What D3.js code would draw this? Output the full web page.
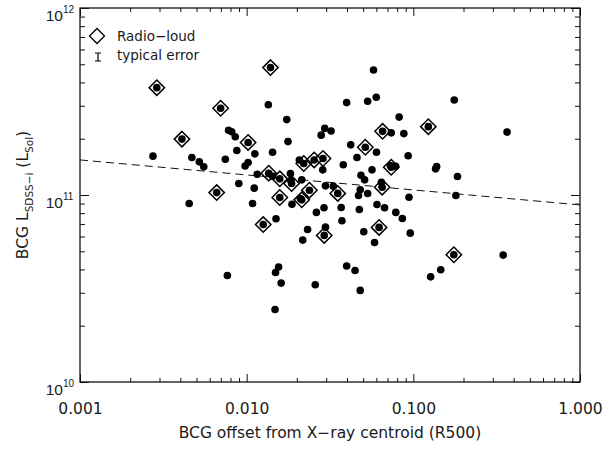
<!DOCTYPE html>
<html>
<head>
<meta charset="utf-8">
<script src="https://cdn.jsdelivr.net/npm/d3@7"></script>
<style>
  html, body { margin: 0; padding: 0; background: #fff; }
  svg { display: block; font-family: "DejaVu Sans", sans-serif; }
  .axis path { display: none; }
  .axis line { stroke: #111; stroke-width: 1; }
</style>
</head>
<body>
<svg id="chart" width="616" height="450"></svg>
<script>
// ---------------- data ----------------
// Radio-loud BCGs (dot + diamond)
const radioX = [0.00289, 0.00409, 0.00698, 0.00661, 0.0102, 0.0139, 0.01356, 0.0158, 0.0158, 0.01257,
                0.0186, 0.0214, 0.0238, 0.0254, 0.0287, 0.0220, 0.0292, 0.0352, 0.0515, 0.0654,
                0.0737, 0.0650, 0.0623, 0.123, 0.175];
const radioY = [3.75e11, 1.99e11, 2.91e11, 1.03e11, 1.91e11, 4.80e11, 1.308e11, 1.22e11, 9.70e10, 6.95e10,
                1.152e11, 9.42e10, 1.061e11, 1.54e11, 1.567e11, 1.474e11, 6.08e10, 1.02e11, 1.80e11, 2.19e11,
                1.408e11, 1.101e11, 6.71e10, 2.32e11, 4.79e10];
// Other BCGs (dot only)
const otherX = [0.00274, 0.00452, 0.00469, 0.0052, 0.00553, 0.00766, 0.00745, 0.00779, 0.00813, 0.00854,
                0.00873, 0.00897, 0.00978, 0.0102, 0.01085, 0.0111, 0.0112, 0.01158, 0.01349, 0.01432,
                0.0143, 0.0150, 0.0149, 0.01554, 0.0161, 0.0148, 0.0174, 0.0177, 0.0183, 0.0184,
                0.0187, 0.0207, 0.0210, 0.0214, 0.0232, 0.0217, 0.0258, 0.0262, 0.0280, 0.0286,
                0.0291, 0.0297, 0.0294, 0.0321, 0.0297, 0.0331, 0.0369, 0.0373, 0.0380, 0.0398,
                0.0421, 0.0398, 0.0447, 0.0459, 0.0469, 0.0474, 0.0480, 0.0485, 0.0504, 0.0510,
                0.0480, 0.0532, 0.0565, 0.0577, 0.0532, 0.0599, 0.0601, 0.0605, 0.0585, 0.0643,
                0.0672, 0.0737, 0.0727, 0.0783, 0.0785, 0.0822, 0.0859, 0.0877, 0.0931, 0.0942,
                0.0958, 0.127, 0.138, 0.136, 0.146, 0.176, 0.180, 0.184, 0.346, 0.365];
const otherY = [1.613e11, 9.01e10, 1.586e11, 1.504e11, 1.414e11, 3.71e10, 1.554e11, 2.22e11, 2.18e11, 2.05e11,
                1.73e11, 1.152e11, 1.43e11, 1.49e11, 9.01e10, 1.088e11, 1.66e11, 1.292e11, 3.04e11, 1.26e11,
                1.693e11, 7.46e10, 3.85e10, 4.12e10, 3.38e10, 2.44e10, 2.53e11, 1.93e11, 1.303e11, 1.195e11,
                8.93e10, 1.54e11, 9.58e10, 1.205e11, 6.54e10, 5.74e10, 3.31e10, 8.07e10, 2.09e11, 1.363e11,
                8.54e10, 6.73e10, 2.27e11, 2.20e11, 1.119e11, 1.115e11, 8.57e10, 7.28e10, 1.45e11, 3.12e11,
                1.854e11, 4.17e10, 3.95e10, 1.586e11, 9.94e10, 8.37e10, 1.066e11, 1.276e11, 6.36e10, 1.205e11,
                3.09e10, 1.018e11, 1.363e11, 4.66e11, 3.17e11, 3.33e11, 1.693e11, 8.90e10, 5.57e10, 1.171e11,
                8.54e10, 2.15e11, 1.437e11, 1.425e11, 8.07e10, 2.61e11, 7.49e10, 2.13e11, 1.62e11, 9.73e10,
                6.25e10, 3.65e10, 1.42e11, 1.38e11, 3.98e10, 3.22e11, 9.94e10, 1.255e11, 4.77e10, 2.17e11];
// Dashed trend line
const fitX = [0.001, 1.0];
const fitY = [1.54e11, 8.85e10];
// Axis ticks
const xMajor = [0.001, 0.01, 0.1, 1.0];
const xMajorLabels = ["0.001", "0.010", "0.100", "1.000"];
const xMinor = [2,3,4,5,6,7,8,9].flatMap(k => [k*0.001, k*0.01, k*0.1]);
const yMajor = [1e10, 1e11, 1e12];
const yMajorExp = ["10", "11", "12"];
const yMinor = [2,3,4,5,6,7,8,9].flatMap(k => [k*1e10, k*1e11]);
const legendLabels = ["Radio\u2212loud", "typical error"];
const xTitle = "BCG offset from X\u2212ray centroid (R500)";

// ---------------- layout ----------------
const L = 80, R = 580, T = 8, B = 382;
const ink = "#1a1a1a";
const svg = d3.select("#chart");
const x = d3.scaleLog().domain([0.001, 1]).range([L, R]);
const y = d3.scaleLog().domain([1e10, 1e12]).range([B, T]);

// ---------------- axes ----------------
function addAxis(axis, tx, ty) {
  return svg.append("g").attr("class", "axis").attr("transform", `translate(${tx},${ty})`).call(axis);
}
// minor ticks (inward)
addAxis(d3.axisBottom(x).tickValues(xMinor).tickSize(-4).tickFormat(""), 0, B);
addAxis(d3.axisTop(x).tickValues(xMinor).tickSize(-4).tickFormat(""), 0, T);
addAxis(d3.axisLeft(y).tickValues(yMinor).tickSize(-5).tickFormat(""), L, 0);
addAxis(d3.axisRight(y).tickValues(yMinor).tickSize(-5).tickFormat(""), R, 0);
// major ticks
const xb = addAxis(d3.axisBottom(x).tickValues(xMajor).tickSize(-8).tickPadding(21)
  .tickFormat((d, i) => xMajorLabels[i]), 0, B);
xb.selectAll("text").attr("font-size", 15.5).attr("fill", ink).attr("font-family", "DejaVu Sans");
addAxis(d3.axisTop(x).tickValues(xMajor).tickSize(-8).tickFormat(""), 0, T);
const yl = addAxis(d3.axisLeft(y).tickValues(yMajor).tickSize(-9).tickFormat(""), L, 0);
addAxis(d3.axisRight(y).tickValues(yMajor).tickSize(-9).tickFormat(""), R, 0);
// y tick labels with superscripts
yl.selectAll(".tick").each(function(d, i) {
  const g = d3.select(this);
  g.append("text").attr("x", -17).attr("y", 12).attr("text-anchor", "end")
    .attr("font-size", 15.5).attr("fill", ink).text("10");
  g.append("text").attr("x", -17).attr("y", 4).attr("text-anchor", "start")
    .attr("font-size", 10).attr("fill", ink).text(yMajorExp[i]);
});

// frame
svg.append("rect").attr("x", L).attr("y", T).attr("width", R - L).attr("height", B - T)
  .attr("fill", "none").attr("stroke", "#111").attr("stroke-width", 1.3);

// ---------------- trend line ----------------
const line = d3.line().x(d => x(d[0])).y(d => y(d[1]));
svg.append("path").datum(fitX.map((v, i) => [v, fitY[i]]))
  .attr("d", line).attr("fill", "none").attr("stroke", "#111").attr("stroke-width", 1)
  .attr("stroke-dasharray", "8,5");

// ---------------- points ----------------
const dotR = 3.8, dia = 7.7;
const allX = otherX.concat(radioX), allY = otherY.concat(radioY);
svg.append("g").selectAll("circle").data(allX.map((v, i) => [v, allY[i]])).join("circle")
  .attr("cx", d => x(d[0])).attr("cy", d => y(d[1])).attr("r", dotR).attr("fill", "#000");
const diamond = (cx, cy, s) => `M${cx},${cy - s}L${cx + s},${cy}L${cx},${cy + s}L${cx - s},${cy}Z`;
svg.append("g").selectAll("path").data(radioX.map((v, i) => [v, radioY[i]])).join("path")
  .attr("d", d => diamond(x(d[0]), y(d[1]), dia))
  .attr("fill", "none").attr("stroke", "#000").attr("stroke-width", 1.5);

// ---------------- legend ----------------
const lg = svg.append("g");
lg.append("path").attr("d", diamond(97, 36, 7.5)).attr("fill", "none").attr("stroke", "#000").attr("stroke-width", 1.3);
lg.append("text").attr("x", 117).attr("y", 41).attr("font-size", 13.5).attr("fill", ink).text(legendLabels[0]);
lg.append("path").attr("d", "M95,53H101M98,53V61M95,61H101").attr("stroke", "#000").attr("stroke-width", 1.2).attr("fill", "none");
lg.append("text").attr("x", 117).attr("y", 60).attr("font-size", 13.5).attr("fill", ink).text(legendLabels[1]);

// ---------------- titles ----------------
svg.append("text").attr("x", (L + R) / 2).attr("y", 438).attr("text-anchor", "middle")
  .attr("font-size", 15.5).attr("fill", ink).text(xTitle);
const yt = svg.append("text").attr("transform", `translate(28,${(T + B) / 2}) rotate(-90)`)
  .attr("text-anchor", "middle").attr("font-size", 15.5).attr("fill", ink);
yt.append("tspan").text("BCG L");
yt.append("tspan").attr("dy", 5).attr("font-size", 10.5).text("SDSS\u2212i");
yt.append("tspan").attr("dy", -5).text(" (L");
yt.append("tspan").attr("dy", 5).attr("font-size", 10.5).text("Sol");
yt.append("tspan").attr("dy", -5).text(")");
</script>
</body>
</html>
